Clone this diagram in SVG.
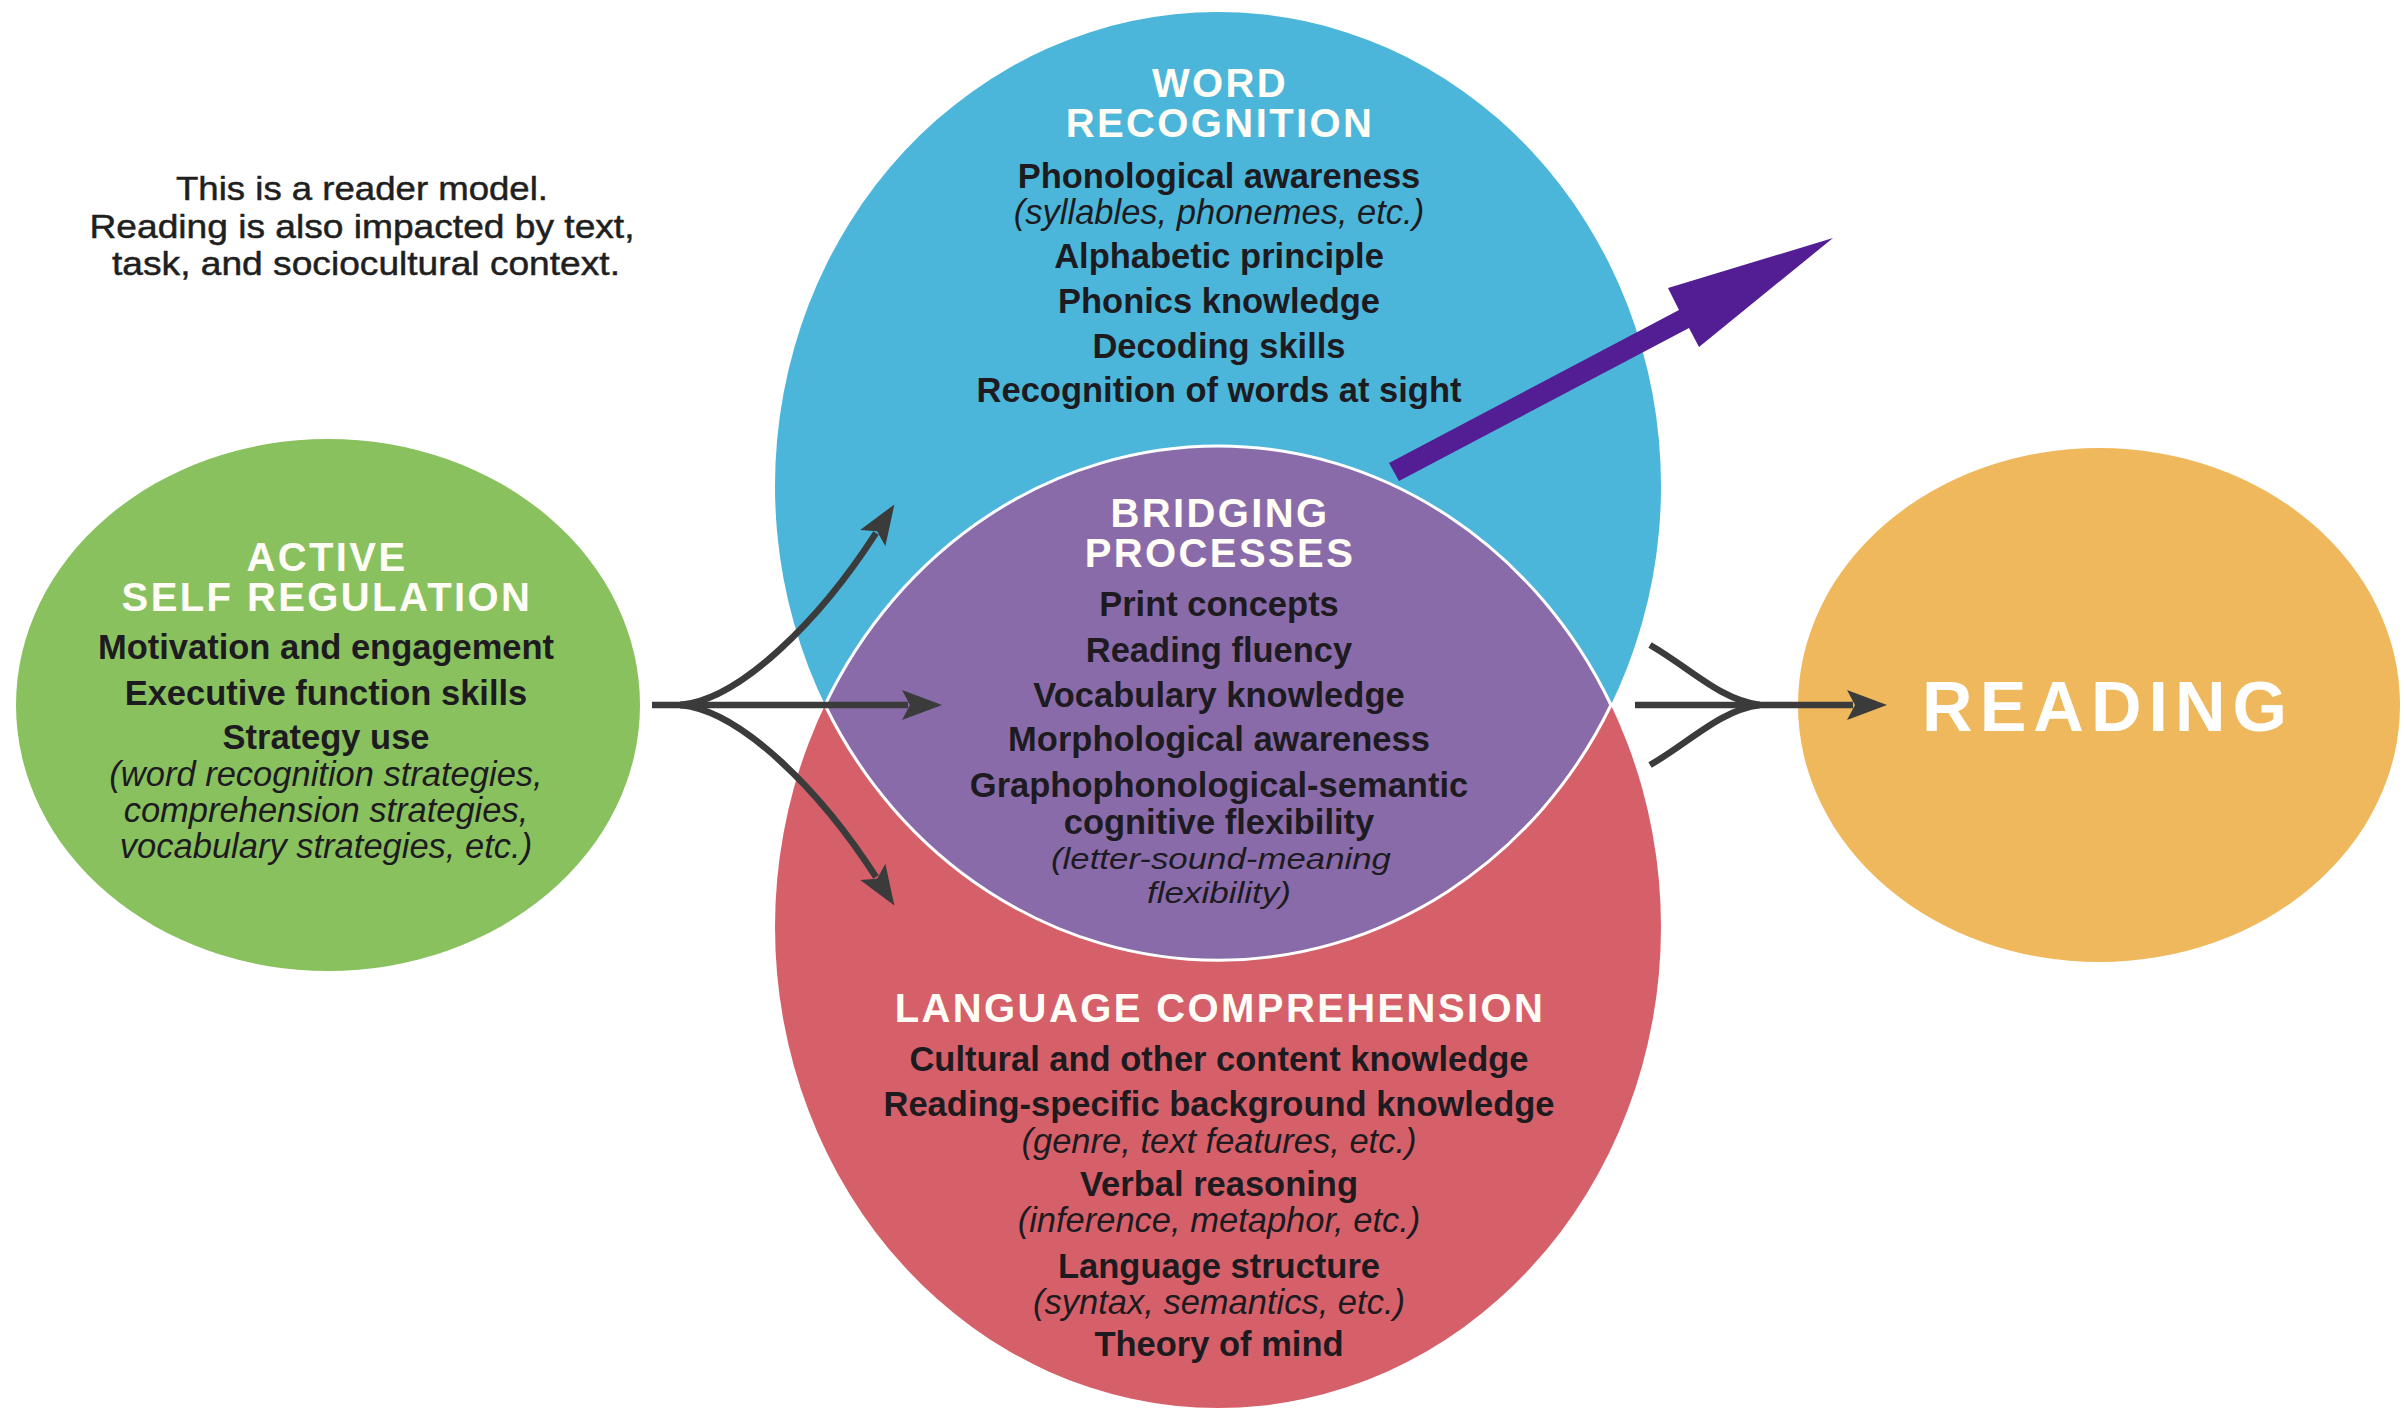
<svg xmlns="http://www.w3.org/2000/svg" width="2405" height="1415" viewBox="0 0 2405 1415">
  <defs>
    <style>
      .hd { font-family: "Liberation Sans", Arial, sans-serif; font-weight: bold; font-size: 40px; fill: #fffdf6; letter-spacing: 2.4px; text-anchor: middle; }
      .bd { font-family: "Liberation Sans", Arial, sans-serif; font-weight: bold; font-size: 34.5px; fill: #1d1b1f; text-anchor: middle; }
      .it { font-family: "Liberation Sans", Arial, sans-serif; font-style: italic; font-size: 34.5px; fill: #1d1b1f; text-anchor: middle; }
      .nt { font-family: "Liberation Sans", Arial, sans-serif; font-size: 34px; fill: #1f1f1f; stroke: #1f1f1f; stroke-width: 0.5px; text-anchor: middle; }
      .big { font-family: "Liberation Sans", Arial, sans-serif; font-weight: bold; font-size: 70px; fill: #ffffff; letter-spacing: 7px; text-anchor: middle; }
      .conn { fill: none; stroke: #3b3b3b; stroke-width: 6.5; }
    </style>
    <marker id="head" viewBox="0 0 40 30" refX="6" refY="15" markerWidth="40" markerHeight="30" markerUnits="userSpaceOnUse" orient="auto">
      <path d="M0,0 L40,15 L0,30 L8,15 Z" fill="#3b3b3b"/>
    </marker>
  </defs>

  <rect x="0" y="0" width="2405" height="1415" fill="#ffffff"/>

  <g id="note">
    <text class="nt" x="362" y="200" textLength="372" lengthAdjust="spacingAndGlyphs">This is a reader model.</text>
    <text class="nt" x="362" y="238" textLength="545" lengthAdjust="spacingAndGlyphs">Reading is also impacted by text,</text>
    <text class="nt" x="366" y="275" textLength="508" lengthAdjust="spacingAndGlyphs">task, and sociocultural context.</text>
  </g>

  <g id="node-word-recognition">
    <ellipse cx="1218" cy="486" rx="443" ry="474" fill="#4bb6da"/>
    <text class="hd" x="1220" y="97">WORD</text>
    <text class="hd" x="1220" y="137">RECOGNITION</text>
    <text class="bd" x="1219" y="188">Phonological awareness</text>
    <text class="it" x="1219" y="224">(syllables, phonemes, etc.)</text>
    <text class="bd" x="1219" y="268">Alphabetic principle</text>
    <text class="bd" x="1219" y="313">Phonics knowledge</text>
    <text class="bd" x="1219" y="358">Decoding skills</text>
    <text class="bd" x="1219" y="402">Recognition of words at sight</text>
  </g>

  <g id="node-language-comprehension">
    <ellipse cx="1218" cy="927" rx="443" ry="481" fill="#d5606a"/>
    <text class="hd" x="1220" y="1022">LANGUAGE COMPREHENSION</text>
    <text class="bd" x="1219" y="1071">Cultural and other content knowledge</text>
    <text class="bd" x="1219" y="1116">Reading-specific background knowledge</text>
    <text class="it" x="1219" y="1153">(genre, text features, etc.)</text>
    <text class="bd" x="1219" y="1196">Verbal reasoning</text>
    <text class="it" x="1219" y="1232">(inference, metaphor, etc.)</text>
    <text class="bd" x="1219" y="1278">Language structure</text>
    <text class="it" x="1219" y="1314">(syntax, semantics, etc.)</text>
    <text class="bd" x="1219" y="1356">Theory of mind</text>
  </g>

  <g id="node-bridging-processes">
    <path d="M 825 705 A 443 481 0 0 1 1611 705 A 443 474 0 0 1 825 705 Z" fill="#8a6baa" stroke="#ffffff" stroke-width="3"/>
    <text class="hd" x="1220" y="527">BRIDGING</text>
    <text class="hd" x="1220" y="567">PROCESSES</text>
    <text class="bd" x="1219" y="616">Print concepts</text>
    <text class="bd" x="1219" y="662">Reading fluency</text>
    <text class="bd" x="1219" y="707">Vocabulary knowledge</text>
    <text class="bd" x="1219" y="751">Morphological awareness</text>
    <text class="bd" x="1219" y="797">Graphophonological-semantic</text>
    <text class="bd" x="1219" y="834">cognitive flexibility</text>
    <text class="it" x="1221" y="869" style="font-size:30px" textLength="340" lengthAdjust="spacingAndGlyphs">(letter-sound-meaning</text>
    <text class="it" x="1219" y="903" style="font-size:30px" textLength="144" lengthAdjust="spacingAndGlyphs">flexibility)</text>
  </g>

  <g id="node-active-self-regulation">
    <ellipse cx="328" cy="705" rx="312" ry="266" fill="#89c15f"/>
    <text class="hd" x="327" y="571">ACTIVE</text>
    <text class="hd" x="327" y="611">SELF REGULATION</text>
    <text class="bd" x="326" y="659">Motivation and engagement</text>
    <text class="bd" x="326" y="705">Executive function skills</text>
    <text class="bd" x="326" y="749">Strategy use</text>
    <text class="it" x="326" y="786">(word recognition strategies,</text>
    <text class="it" x="326" y="822">comprehension strategies,</text>
    <text class="it" x="326" y="858">vocabulary strategies, etc.)</text>
  </g>

  <g id="node-reading">
    <ellipse cx="2099" cy="705" rx="301" ry="257" fill="#efb85c"/>
    <text class="big" x="2108" y="731">READING</text>
  </g>

  <g id="connectors">
    <path class="conn" d="M 652 705 L 685 705"/>
    <path class="conn" d="M 680 705 L 908 705" marker-end="url(#head)"/>
    <path class="conn" d="M 680 705 C 740 700, 820 620, 876 533" marker-end="url(#head)"/>
    <path class="conn" d="M 680 705 C 740 710, 820 790, 876 877" marker-end="url(#head)"/>
    <path class="conn" d="M 1650 645 C 1690 668, 1720 700, 1760 705"/>
    <path class="conn" d="M 1650 765 C 1690 742, 1720 710, 1760 705"/>
    <path class="conn" d="M 1635 705 L 1853 705" marker-end="url(#head)"/>
    <polygon points="1389,463 1679,310 1668,288 1833,238 1699,347 1689,328 1399,481" fill="#531e94"/>
  </g>
</svg>
